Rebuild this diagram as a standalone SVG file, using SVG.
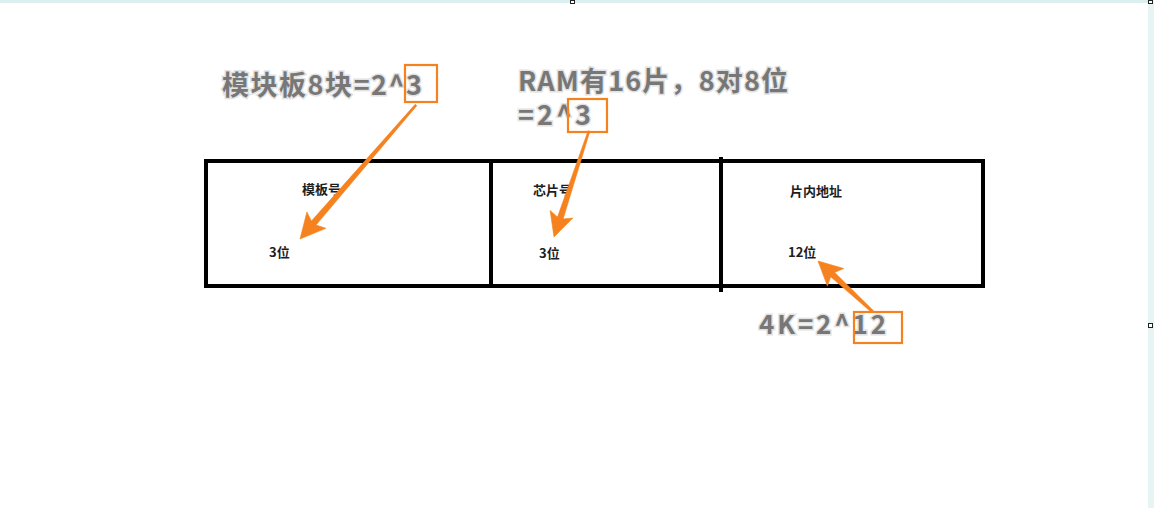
<svg xmlns="http://www.w3.org/2000/svg" width="1154" height="508" viewBox="0 0 1154 508">
  <style>
    .big { font-family: "Noto Sans CJK SC", "Noto Sans", sans-serif; font-weight: bold; fill: #777777; stroke: #e2e2e2; stroke-width: 3; paint-order: stroke; }
    .small { font-family: "Noto Sans CJK SC", "Noto Sans", sans-serif; font-weight: bold; font-size: 13px; fill: #1e1e1e; }
    .cell { fill: #ffffff; stroke: #000000; stroke-width: 4; }
    .hl { fill: none; stroke: #f5821f; stroke-width: 2.2; }
    .arrow { fill: #f5821f; stroke: #f5821f; stroke-width: 0.6; stroke-linejoin: round; }
  </style>
  <rect x="0" y="0" width="1154" height="508" fill="#ffffff"/>
  <rect x="0" y="0" width="1154" height="3" fill="#dcefef"/>
  <rect x="1148" y="0" width="6" height="508" fill="#e6f4f4"/>
  <rect x="570.5" y="0.5" width="4" height="3" fill="#ffffff" stroke="#222" stroke-width="1"/>
  <rect x="1148.5" y="0.5" width="4" height="3" fill="#ffffff" stroke="#222" stroke-width="1"/>
  <rect x="1148.5" y="323.5" width="4" height="4" fill="#ffffff" stroke="#222" stroke-width="1"/>

  <g id="table">
    <g id="cell-module">
      <rect class="cell" x="206" y="161" width="285" height="125"/>
      <text class="small" x="302" y="194">模板号</text>
      <text class="small" x="269" y="257">3位</text>
    </g>
    <g id="cell-chip">
      <rect class="cell" x="491" y="161" width="230" height="125"/>
      <text class="small" x="533" y="195">芯片号</text>
      <text class="small" x="539" y="258">3位</text>
    </g>
    <g id="cell-offset">
      <rect class="cell" x="721" y="161" width="262" height="125"/>
      <line x1="721" y1="157" x2="721" y2="292" stroke="#000" stroke-width="4"/>
      <text class="small" x="790" y="196" font-size="14">片内地址</text>
      <text class="small" x="788" y="257">12位</text>
    </g>
  </g>

  <g id="label-module">
    <text class="big" x="222" y="95" font-size="27" textLength="200" lengthAdjust="spacing">模块板8块=2^3</text>
    <rect class="hl" x="405" y="65" width="32" height="37"/>
  </g>
  <g id="label-ram">
    <text class="big" x="518" y="91" font-size="27" textLength="270" lengthAdjust="spacing">RAM有16片，8对8位</text>
    <text class="big" x="518" y="125" font-size="27" textLength="73" lengthAdjust="spacing">=2^3</text>
    <rect class="hl" x="568" y="99" width="39" height="33"/>
  </g>
  <g id="label-4k">
    <text class="big" x="759" y="334" font-size="26" textLength="127" lengthAdjust="spacing">4K=2^12</text>
    <rect class="hl" x="854" y="312" width="48" height="31"/>
  </g>

  <g id="connectors">
    <polygon class="arrow" points="416.8,105.7 316.0,225.1 325.9,228.3 300,239 306.9,211.9 311.4,221.1 415.2,104.3"/>
    <polygon class="arrow" points="589.9,131.3 563.1,218.9 572.9,218.0 554,237 550.1,210.4 557.5,217.1 588.1,130.7"/>
    <polygon class="arrow" points="873.8,311.1 834.7,272.4 843.8,268.5 818,261 827.4,286.1 830.7,276.8 872.2,312.9"/>
  </g>
</svg>
